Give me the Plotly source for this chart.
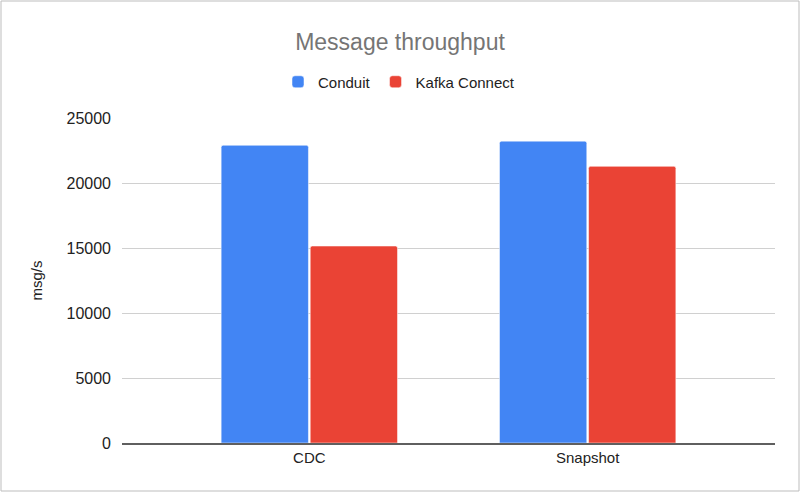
import plotly.graph_objects as go

# data
categories = ["CDC", "Snapshot"]
conduit = [22900, 23220]
kafka_connect = [15150, 21280]

W, H = 800, 492
ml, mr, mt, mb = 122, 25, 118, 49
pw = W - ml - mr
ph = H - mt - mb

fig = go.Figure()
fig.add_trace(go.Bar(x=categories, y=conduit, name="Conduit",
                     marker=dict(color="#4285F4", line=dict(color="#ffffff", width=0.5))))
fig.add_trace(go.Bar(x=categories, y=kafka_connect, name="Kafka Connect",
                     marker=dict(color="#EA4335", line=dict(color="#ffffff", width=0.5))))

# light frame around the whole chart
fig.add_shape(type="rect", xref="paper", yref="paper",
              x0=(1 - ml) / pw, x1=(W - 1 - ml) / pw,
              y0=-(mb - 1) / ph, y1=1 + (mt - 1) / ph,
              line=dict(color="#bdbdbd", width=1), layer="below")

fig.update_layout(
    width=W, height=H,
    margin=dict(l=ml, r=mr, t=mt, b=mb, autoexpand=False),
    paper_bgcolor="white", plot_bgcolor="white",
    font=dict(family="Liberation Sans, Arial, sans-serif", size=14, color="#222222"),
    title=dict(text="Message throughput", x=0.5, xref="container", xanchor="center",
               y=1 - 42 / H, yanchor="middle",
               font=dict(size=23, color="#757575")),
    legend=dict(orientation="h", x=(399 - ml) / pw, xanchor="center",
                y=1 + 36 / ph, yanchor="middle", font=dict(size=15, color="#222222"),
                bgcolor="rgba(0,0,0,0)", traceorder="normal"),
    barmode="group", bargap=0.36, bargroupgap=0.02,
    barcornerradius=2,
    xaxis=dict(range=[-0.673, 1.673], showgrid=False, showline=True,
               linecolor="#5f5f5f", linewidth=2, ticks="",
               tickfont=dict(size=15, color="#222222")),
    yaxis=dict(range=[0, 25000], dtick=5000, tickformat="d", showgrid=True,
               gridcolor="#d0d0d0", gridwidth=1, zeroline=False, showline=False,
               ticks="", ticklabelstandoff=10, tickfont=dict(size=16, color="#222222"),
               title=dict(text="msg/s", font=dict(size=15, color="#222222"), standoff=20)),
)

# drop the default 8px page margin so the figure sits at the window corner
fig.write_html("out.html", config={"displayModeBar": False},
               post_script="document.body.style.margin='0';")
